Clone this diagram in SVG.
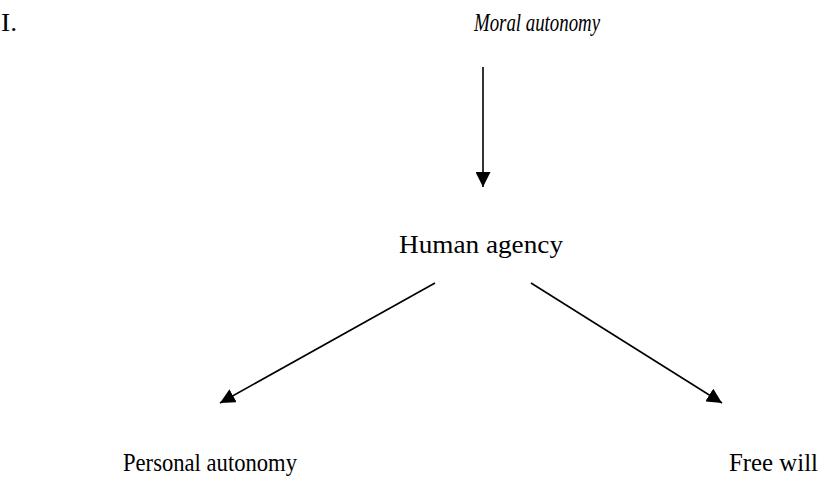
<svg xmlns="http://www.w3.org/2000/svg" width="829" height="477" viewBox="0 0 829 477">
<defs>
<style>
text{font-family:"Liberation Serif","Times New Roman",serif;font-size:25px;fill:#000}
.it{font-style:italic}
.c{stroke:#000;stroke-width:1.6;fill:none}
</style>
<marker id="ah" viewBox="0 0 10 10" refX="10" refY="5" markerWidth="15" markerHeight="15" markerUnits="userSpaceOnUse" orient="auto">
<path d="M0,0 L10,5 L0,10 Z" fill="#000"/>
</marker>
</defs>
<rect width="829" height="477" fill="#fff"/>
<g id="label-I"><text x="1" y="31" textLength="16" lengthAdjust="spacingAndGlyphs">I.</text></g>
<g id="moral-autonomy"><text class="it" x="474" y="31" textLength="126" lengthAdjust="spacingAndGlyphs">Moral autonomy</text></g>
<g id="human-agency"><text x="399" y="253" textLength="164" lengthAdjust="spacingAndGlyphs">Human agency</text></g>
<g id="personal-autonomy"><text x="123" y="471" textLength="174" lengthAdjust="spacingAndGlyphs">Personal autonomy</text></g>
<g id="free-will"><text x="729" y="471" textLength="89" lengthAdjust="spacingAndGlyphs">Free will</text></g>
<g id="connectors">
<line class="c" x1="483" y1="67" x2="483" y2="187" marker-end="url(#ah)"/>
<line class="c" x1="435" y1="283" x2="220" y2="403" marker-end="url(#ah)"/>
<line class="c" x1="531" y1="283" x2="722" y2="403" marker-end="url(#ah)"/>
</g>
</svg>
